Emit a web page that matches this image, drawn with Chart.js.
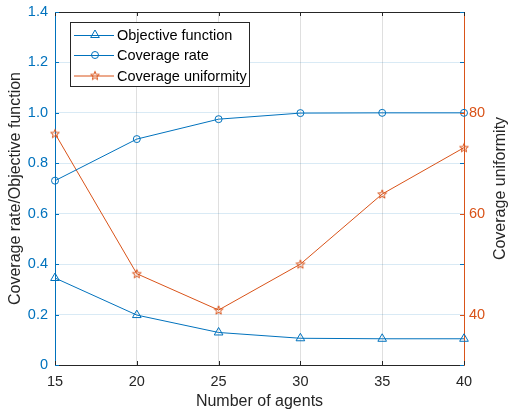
<!DOCTYPE html>
<html lang="en">
<head>
<meta charset="UTF-8">
<title>Coverage vs number of agents</title>
<script src="https://cdn.jsdelivr.net/npm/chart.js"></script>
<style>
  html, body { margin: 0; padding: 0; background: #fff; }
  #wrap { width: 509px; height: 417px; }
</style>
</head>
<body>
<div id="wrap"><canvas id="chart" width="509" height="417"></canvas></div>
<script>
// values
const agents = [15, 20, 25, 30, 35, 40];
const objectiveFunction = [0.345, 0.198, 0.129, 0.106, 0.104, 0.104];
const coverageRate = [0.731, 0.896, 0.975, 0.999, 1.0, 1.0];
const coverageUniformity = [75.9, 48.1, 40.9, 50.0, 63.9, 73.1];
const leftTicks = [0, 0.2, 0.4, 0.6, 0.8, 1.0, 1.2, 1.4];
const rightTicks = [40, 60, 80];
const xTicks = [15, 20, 25, 30, 35, 40];

const BLUE = '#0072BD';
const ORANGE = '#D95319';
const DARK = '#262626';
const FONT = '"Liberation Sans", Arial, Helvetica, sans-serif';

Chart.defaults.font.family = FONT;

// pentagram marker (matlab 'p')
function makeStar(color) {
    const c = document.createElement('canvas');
    c.width = 12; c.height = 12;
    const g = c.getContext('2d');
    g.strokeStyle = color;
    g.lineWidth = 1;
    g.beginPath();
    for (let i = 0; i < 10; i++) {
        const r = i % 2 === 0 ? 4.6 : 1.9;
        const a = -Math.PI / 2 + i * Math.PI / 5;
        const px = 6 + r * Math.cos(a), py = 6.4 + r * Math.sin(a);
        if (i === 0) g.moveTo(px, py); else g.lineTo(px, py);
    }
    g.closePath();
    g.stroke();
    return c;
}
const starImg = makeStar(ORANGE);

function pts(ys) {
    return agents.map((x, i) => ({ x: x, y: ys[i] }));
}

// no extra label padding, the plot box is fixed by the layout below
function noPad(s) {
    s.paddingTop = 0; s.paddingBottom = 0;
    s.paddingLeft = 0; s.paddingRight = 0;
}

// inward ticks, top box line, titles and legend box
const extras = {
    id: 'extras',
    afterDraw(chart) {
        const ctx = chart.ctx;
        const a = chart.chartArea;
        const xs = chart.scales.x, yl = chart.scales.y, yr = chart.scales.y1;
        const tl = 4;
        ctx.save();
        ctx.lineWidth = 1;

        // top border
        ctx.strokeStyle = DARK;
        ctx.beginPath();
        ctx.moveTo(a.left, a.top + 0.5);
        ctx.lineTo(a.right, a.top + 0.5);
        ctx.stroke();

        // x ticks bottom and top
        xTicks.forEach(v => {
            const px = Math.round(xs.getPixelForValue(v)) + 0.5;
            ctx.beginPath();
            ctx.moveTo(px, a.bottom); ctx.lineTo(px, a.bottom - tl);
            ctx.moveTo(px, a.top); ctx.lineTo(px, a.top + tl);
            ctx.stroke();
        });

        // left ticks (both sides)
        ctx.strokeStyle = BLUE;
        leftTicks.forEach(v => {
            const py = Math.round(yl.getPixelForValue(v)) + 0.5;
            ctx.beginPath();
            ctx.moveTo(a.left, py); ctx.lineTo(a.left + tl, py);
            ctx.moveTo(a.right, py); ctx.lineTo(a.right - tl, py);
            ctx.stroke();
        });

        // right ticks
        ctx.strokeStyle = ORANGE;
        rightTicks.forEach(v => {
            const py = Math.round(yr.getPixelForValue(v)) + 0.5;
            ctx.beginPath();
            ctx.moveTo(a.right, py); ctx.lineTo(a.right - tl, py);
            ctx.stroke();
        });

        // axis titles
        ctx.fillStyle = DARK;
        ctx.font = '16px ' + FONT;
        ctx.textAlign = 'center';
        ctx.textBaseline = 'middle';
        const midY = (a.top + a.bottom) / 2;
        ctx.fillText('Number of agents', (a.left + a.right) / 2, 402);
        ctx.save();
        ctx.translate(16, midY);
        ctx.rotate(-Math.PI / 2);
        ctx.fillText('Coverage rate/Objective function', 0, 0);
        ctx.restore();
        ctx.save();
        ctx.translate(501, midY);
        ctx.rotate(-Math.PI / 2);
        ctx.fillText('Coverage uniformity', 0, 0);
        ctx.restore();

        // legend
        const bx = 70.5, by = 22.5, bw = 179, bh = 64;
        ctx.fillStyle = '#fff';
        ctx.fillRect(bx, by, bw, bh);
        ctx.strokeStyle = DARK;
        ctx.strokeRect(bx, by, bw, bh);
        const rows = [35, 55, 75.5];
        ctx.font = '14.5px ' + FONT;
        ctx.textAlign = 'left';
        chart.data.datasets.forEach((ds, i) => {
            const ry = rows[i];
            ctx.strokeStyle = ds.borderColor;
            ctx.lineWidth = 1;
            ctx.beginPath();
            ctx.moveTo(74, ry + 0.5); ctx.lineTo(114, ry + 0.5);
            ctx.stroke();
            ctx.fillStyle = 'rgba(0,0,0,0)';
            Chart.helpers.drawPoint(ctx, {
                pointStyle: ds.pointStyle, radius: ds.pointRadius, rotation: 0, borderWidth: 1
            }, 95, ry);
            ctx.fillStyle = '#000';
            ctx.fillText(ds.label, 117, ry + 1);
        });
        ctx.restore();
    }
};

new Chart(document.getElementById('chart'), {
    type: 'line',
    data: {
        datasets: [
            {
                label: 'Objective function',
                data: pts(objectiveFunction),
                yAxisID: 'y',
                borderColor: BLUE,
                backgroundColor: 'rgba(0,0,0,0)',
                borderWidth: 1,
                pointStyle: 'triangle',
                pointRadius: 5,
                pointBorderWidth: 1,
                tension: 0,
                clip: false
            },
            {
                label: 'Coverage rate',
                data: pts(coverageRate),
                yAxisID: 'y',
                borderColor: BLUE,
                backgroundColor: 'rgba(0,0,0,0)',
                borderWidth: 1,
                pointStyle: 'circle',
                pointRadius: 3.5,
                pointBorderWidth: 1,
                tension: 0,
                clip: false
            },
            {
                label: 'Coverage uniformity',
                data: pts(coverageUniformity),
                yAxisID: 'y1',
                borderColor: ORANGE,
                backgroundColor: 'rgba(0,0,0,0)',
                borderWidth: 1,
                pointStyle: starImg,
                pointRadius: 5,
                pointBorderWidth: 1,
                tension: 0,
                clip: false
            }
        ]
    },
    options: {
        responsive: false,
        animation: false,
        events: [],
        layout: { padding: { top: 12, left: 0, right: 0, bottom: 0 } },
        plugins: { legend: { display: false }, tooltip: { enabled: false } },
        scales: {
            x: {
                type: 'linear',
                min: 15, max: 40,
                afterBuildTicks: s => { s.ticks = xTicks.map(v => ({ value: v })); },
                afterFit: s => { s.height = 52; noPad(s); },
                ticks: { color: DARK, font: { size: 14.5 }, padding: 8, autoSkip: false, maxRotation: 0 },
                grid: { color: 'rgba(38,38,38,0.15)', drawTicks: false },
                border: { color: DARK, width: 1 }
            },
            y: {
                position: 'left',
                min: 0, max: 1.4,
                afterBuildTicks: s => { s.ticks = leftTicks.map(v => ({ value: v })); },
                afterFit: s => { s.width = 55; noPad(s); },
                ticks: {
                    color: BLUE, font: { size: 14.5 }, padding: 7,
                    callback: v => v === 0 ? '0' : v.toFixed(1)
                },
                grid: { color: 'rgba(0,114,189,0.15)', drawTicks: false },
                border: { color: BLUE, width: 1 }
            },
            y1: {
                position: 'right',
                min: 30, max: 100,
                afterBuildTicks: s => { s.ticks = rightTicks.map(v => ({ value: v })); },
                afterFit: s => { s.width = 45; noPad(s); },
                ticks: { color: ORANGE, font: { size: 14.5 }, padding: 5 },
                grid: { display: false, drawTicks: false },
                border: { color: ORANGE, width: 1 }
            }
        }
    },
    plugins: [extras]
});
</script>
</body>
</html>
